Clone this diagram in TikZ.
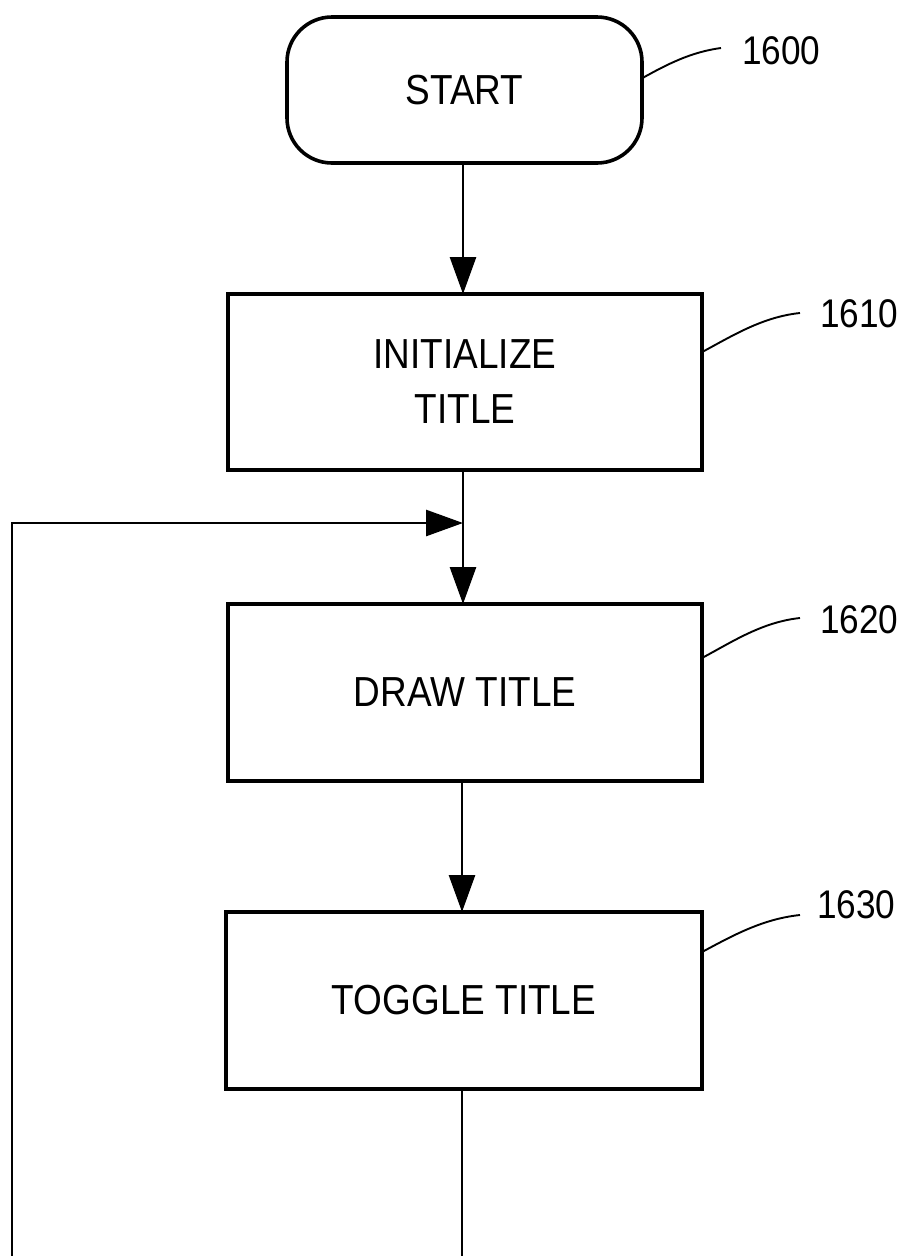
\documentclass[tikz,border=0pt]{standalone}
\usepackage{fontspec}
\setmainfont[FakeStretch=0.88]{Liberation Sans}
\usetikzlibrary{arrows.meta,calc}
\begin{document}
\begin{tikzpicture}[x=1pt,y=-1pt,
  stepbox/.style={draw,line width=3.6pt,inner sep=0pt,outer sep=0pt,minimum width=474pt,minimum height=177pt,align=center,font=\fontsize{42}{55}\selectfont},
  startbox/.style={stepbox,rounded corners=45pt,minimum width=355pt,minimum height=146pt},
  conn/.style={line width=2.8pt},
  arr/.style={conn,-{Triangle[length=37pt,width=26pt]}},
  leader/.style={line width=1.9pt},
  reflabel/.style={anchor=west,inner sep=0pt,font=\fontsize{40}{40}\selectfont}]
\useasboundingbox (0,0) rectangle (906,1256);
\node[startbox] (s) at (464.5,90) {START};
\node[stepbox,minimum height=176pt] (b1) at (465,382) {INITIALIZE\\TITLE};
\node[stepbox] (b2) at (465,692.5) {DRAW TITLE};
\node[stepbox,minimum width=476pt] (b3) at (464,1000.5) {TOGGLE TITLE};
% connectors
\draw[arr] (s.south -| 463,0) -- (b1.north -| 463,0);
\draw[arr] (b1.south -| 463,0) -- (b2.north -| 463,0);
\draw[arr] (b2.south -| 462,0) -- (b3.north -| 462,0);
\coordinate (j) at (463,523);
\coordinate (bot1) at (462,1262);
\coordinate (bot2) at (12,1262);
\draw[conn] (b3.south -| 462,0) -- (bot1);
\draw[arr] (bot2) |- (j);
% reference labels
\node[reflabel] (l0) at (742,51) {1600};
\node[reflabel] (l1) at (820,314) {1610};
\node[reflabel] (l2) at (820,620) {1620};
\node[reflabel] (l3) at (817,905) {1630};
\coordinate (e0) at (721,48);
\coordinate (e1) at (800,313);
\coordinate (e2) at (800,618);
\coordinate (e3) at (800,915);
\draw[leader] ($(s.north east)!0.42!(s.south east)$) .. controls +(25,-14) and +(-30,4) .. (e0);
\draw[leader] ($(b1.north east)!0.33!(b1.south east)$) .. controls +(30,-16) and +(-38,4) .. (e1);
\draw[leader] ($(b2.north east)!0.305!(b2.south east)$) .. controls +(30,-16) and +(-38,4) .. (e2);
\draw[leader] ($(b3.north east)!0.226!(b3.south east)$) .. controls +(30,-16) and +(-38,4) .. (e3);
\end{tikzpicture}
\end{document}
